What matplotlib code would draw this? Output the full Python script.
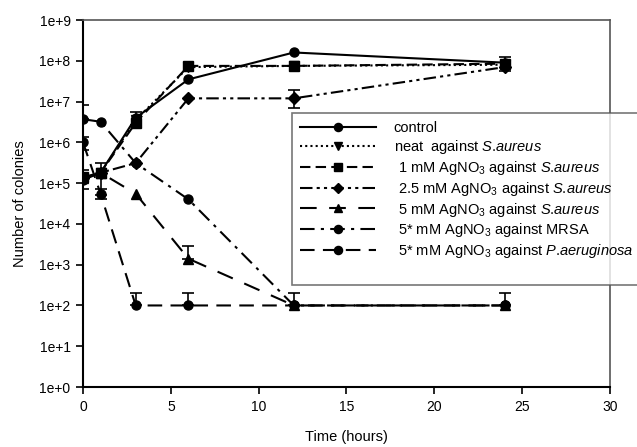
import numpy as np
import matplotlib
matplotlib.use("Agg")
import matplotlib.pyplot as plt
from matplotlib.lines import Line2D

plt.rcParams["font.family"] = ["Liberation Sans", "DejaVu Sans"]
plt.rcParams["mathtext.fontset"] = "custom"
plt.rcParams["mathtext.rm"] = "Liberation Sans"
plt.rcParams["mathtext.it"] = "Liberation Sans:italic"

# sampling times (hours)
time_h = [0, 1, 3, 6, 12, 24]

# colony counts
control = [1.2e5, 1.8e5, 4.0e6, 3.5e7, 1.6e8, 9.0e7]
neat = [1.3e5, 1.8e5, 3.5e6, 7.0e7, 7.5e7, 8.0e7]
mm1 = [1.4e5, 1.8e5, 3.0e6, 7.5e7, 7.5e7, 8.5e7]
mm25 = [1.3e5, 1.8e5, 3.1e5, 1.2e7, 1.2e7, 7.0e7]
mm5 = [1.3e5, 1.8e5, 5.5e4, 1.4e3, 1.0e2, 1.0e2]
mrsa = [3.7e6, 3.2e6, 3.1e5, 4.0e4, 1.0e2, 1.0e2]
paer = [1.0e6, 5.5e4, 1.0e2, 1.0e2, 1.0e2, 1.0e2]

# error bars (lower, upper); nan = not drawn
nan = np.nan
control_lo = [nan, 1.3e5, 1.3e6, nan, nan, 3.5e7]
control_hi = [nan, 1.3e5, 1.6e6, nan, nan, 3.5e7]
mm1_lo = [7.0e4, nan, nan, nan, nan, nan]
mm1_hi = [7.0e4, nan, nan, nan, nan, nan]
mm25_lo = [nan, nan, nan, nan, 5.0e6, nan]
mm25_hi = [nan, nan, nan, nan, 7.0e6, nan]
mm5_lo = [nan, nan, nan, 0, nan, nan]
mm5_hi = [nan, nan, nan, 1.5e3, nan, nan]
mrsa_lo = [0, nan, nan, nan, nan, nan]
mrsa_hi = [4.4e6, nan, nan, nan, nan, nan]
paer_lo = [3.5e5, 1.5e4, 0, 0, 0, 0]
paer_hi = [3.5e5, 1.5e4, 1.0e2, 1.0e2, 1.0e2, 1.0e2]

sa = "$\\it{S}$.$\\it{aureus}$"
labels = [
    "control",
    "neat  against " + sa,
    " 1 mM AgNO$_3$ against " + sa,
    " 2.5 mM AgNO$_3$ against " + sa,
    " 5 mM AgNO$_3$ against " + sa,
    " 5* mM AgNO$_3$ against MRSA",
    " 5* mM AgNO$_3$ against $\\it{P}$.$\\it{aeruginosa}$",
]

series = [
    (control, control_lo, control_hi, "-", "o"),
    (neat, None, None, (0, (1, 1.5)), "v"),
    (mm1, mm1_lo, mm1_hi, (0, (5, 2.5)), "s"),
    (mm25, mm25_lo, mm25_hi, (0, (6, 2, 1.5, 2, 1.5, 2)), "D"),
    (mrsa, mrsa_lo, mrsa_hi, (0, (7, 3, 1.5, 3)), "o"),
    (paer, paer_lo, paer_hi, (0, (7, 4)), "o"),
    (mm5, mm5_lo, mm5_hi, (0, (8, 6)), "^"),
]
order = [0, 1, 2, 3, 6, 4, 5]  # legend order

fig = plt.figure(figsize=(6.37, 4.47), dpi=100)
ax = fig.add_axes([0.1303, 0.1342, 0.8273, 0.8210])

handles = {}
for i, (vals, lo, hi, ls, mk) in enumerate(series):
    ms = 6 if mk == "D" else 6.5
    if mk == "^":
        ms = 7
    line, = ax.plot(time_h, vals, color="black", linestyle=ls, linewidth=1.5,
                    marker=mk, markersize=ms, markerfacecolor="black",
                    markeredgecolor="black", zorder=3)
    handles[i] = line
    if lo is not None:
        ax.errorbar(time_h, vals, yerr=[lo, hi], fmt="none", ecolor="black",
                    elinewidth=1.2, capsize=4, capthick=1.2, zorder=2)

ax.set_yscale("log")
ax.set_xlim(0, 30)
ax.set_ylim(1, 1e9)
ax.set_xticks([0, 5, 10, 15, 20, 25, 30])
ax.set_yticks([10.0 ** k for k in range(10)])
ax.set_yticklabels(["1e+%d" % k for k in range(10)])
ax.yaxis.set_minor_locator(matplotlib.ticker.NullLocator())
ax.tick_params(direction="out", length=5, width=1.2, labelsize=10, pad=4)

for side in ["left", "bottom"]:
    ax.spines[side].set_linewidth(1.5)
    ax.spines[side].set_color("black")
for side in ["top", "right"]:
    ax.spines[side].set_linewidth(1.2)
    ax.spines[side].set_color("#555555")

ax.set_xlabel("Time (hours)", fontsize=10.5, labelpad=12)
ax.set_ylabel("Number of colonies", fontsize=10.5, labelpad=9)

leg_handles = [handles[i] for i in order]
leg_labels = list(labels)
# empty row keeps the extra room at the bottom of the box
leg_handles.append(Line2D([], [], linestyle="none"))
leg_labels.append("")
leg = ax.legend(leg_handles, leg_labels, loc="upper left",
                bbox_to_anchor=(0.397, 0.747), fontsize=10.5, frameon=True,
                fancybox=False, edgecolor="#555555", handlelength=5.2,
                handletextpad=1.2, labelspacing=0.2, borderpad=0.55,
                borderaxespad=0, markerscale=0.9)
leg.get_frame().set_linewidth(1.2)
leg.set_zorder(5)

fig.savefig("out.png", dpi=100)
